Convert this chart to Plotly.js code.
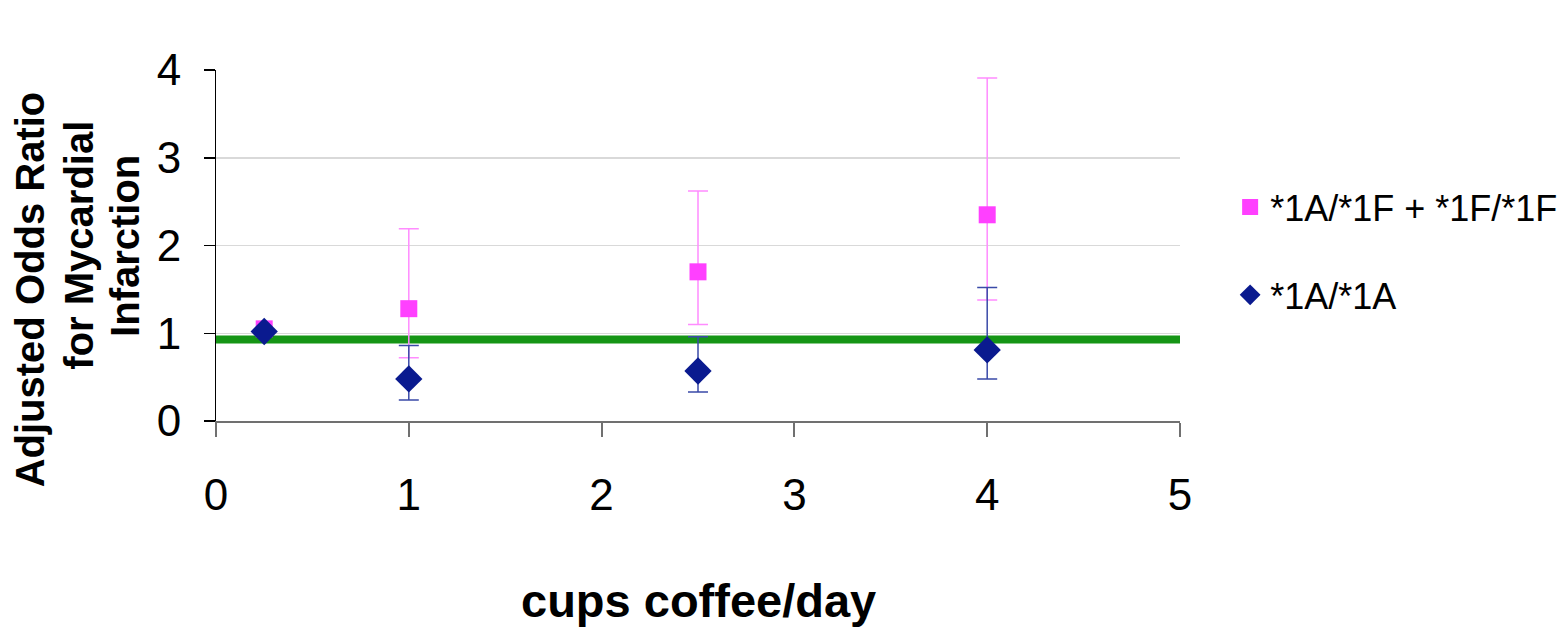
<!DOCTYPE html>
<html>
<head>
<meta charset="utf-8">
<script src="https://cdn.plot.ly/plotly-3.0.1.min.js"></script>
<style>html,body{margin:0;padding:0;background:#fff;}#chart{width:1566px;height:633px;}</style>
</head>
<body>
<div id="chart"></div>
<script>
// Data
const cups = [0.25, 1, 2.5, 4];
const orF = [1.05, 1.28, 1.70, 2.35];          // *1A/*1F + *1F/*1F
const orFUpper = [1.05, 2.19, 2.62, 3.91];
const orFLower = [1.05, 0.72, 1.10, 1.38];
const orA = [1.02, 0.48, 0.57, 0.81];          // *1A/*1A
const orAUpper = [1.02, 0.86, 0.96, 1.52];
const orALower = [1.02, 0.24, 0.33, 0.48];
const refX = [0, 5];
const refY = [0.93, 0.93];
const xTicks = [0, 1, 2, 3, 4, 5];
const yTicks = [0, 1, 2, 3, 4];
const seriesNames = ['*1A/*1F + *1F/*1F', '*1A/*1A'];
const yTitleLines = ['Adjusted Odds Ratio', 'for Mycardial', 'Infarction'];
const xTitle = 'cups coffee/day';

const sans = "'Liberation Sans', Arial, sans-serif";

const traces = [
  {
    x: refX, y: refY, type: 'scatter', mode: 'lines',
    line: {color: '#159515', width: 8},
    showlegend: false, hoverinfo: 'skip'
  },
  {
    x: cups, y: orF, type: 'scatter', mode: 'markers',
    name: seriesNames[0], legendgroup: 'f',
    marker: {symbol: 'square', size: 17, color: '#ff40ff'},
    error_y: {
      type: 'data', symmetric: false,
      array: orFUpper.map((u, i) => u - orF[i]),
      arrayminus: orFLower.map((l, i) => orF[i] - l),
      color: '#ff8cff', thickness: 1.5, width: 10
    }
  },
  {
    x: cups, y: orA, type: 'scatter', mode: 'markers',
    name: seriesNames[1], legendgroup: 'a',
    marker: {symbol: 'diamond', size: 21, color: '#0a1a8f'},
    error_y: {
      type: 'data', symmetric: false,
      array: orAUpper.map((u, i) => u - orA[i]),
      arrayminus: orA.map((v, i) => v - orALower[i]),
      color: '#3a4aa8', thickness: 1.5, width: 10
    }
  }
];

const yTitleX = [-0.193, -0.143, -0.095];
const yTitleY = [0.375, 0.50, 0.50];

const annotations = yTitleLines.map((t, i) => ({
  text: '<b>' + t + '</b>',
  xref: 'paper', yref: 'paper', x: yTitleX[i], y: yTitleY[i],
  xanchor: 'center', yanchor: 'middle', textangle: -90,
  showarrow: false,
  font: {family: sans, size: 40, color: '#000'}
}));
annotations.push({
  text: '<b>' + xTitle + '</b>',
  xref: 'paper', yref: 'paper', x: 0.5, y: -0.51,
  xanchor: 'center', yanchor: 'middle',
  showarrow: false,
  font: {family: sans, size: 47, color: '#000'}
});

const layout = {
  width: 1566, height: 633,
  paper_bgcolor: '#ffffff', plot_bgcolor: '#ffffff',
  margin: {l: 216, r: 386, t: 70, b: 212, autoexpand: false},
  showlegend: true,
  legend: {
    x: 1.052, y: 0.484, xanchor: 'left', yanchor: 'middle',
    font: {family: sans, size: 36, color: '#000'},
    traceorder: 'grouped', tracegroupgap: 38,
    bgcolor: 'rgba(0,0,0,0)'
  },
  xaxis: {
    range: [0, 5], tickvals: xTicks, ticktext: xTicks.map(String),
    showgrid: false, zeroline: false,
    showline: true, linecolor: '#707070', linewidth: 2,
    ticks: 'outside', ticklen: 14, tickcolor: '#707070', tickwidth: 2,
    tickfont: {family: sans, size: 44, color: '#000'},
    ticklabelstandoff: 20,
    fixedrange: true
  },
  yaxis: {
    range: [0, 4], tickvals: yTicks, ticktext: yTicks.map(String),
    showgrid: true, gridcolor: '#d9d9d9', gridwidth: 1.5,
    zeroline: false,
    showline: true, linecolor: '#000', linewidth: 1,
    ticks: 'outside', ticklen: 11, tickcolor: '#000', tickwidth: 1.5,
    tickfont: {family: sans, size: 44, color: '#000'},
    ticklabelstandoff: 14,
    fixedrange: true
  },
  annotations: annotations
};

Plotly.newPlot('chart', traces, layout, {displayModeBar: false, staticPlot: true});
</script>
</body>
</html>
